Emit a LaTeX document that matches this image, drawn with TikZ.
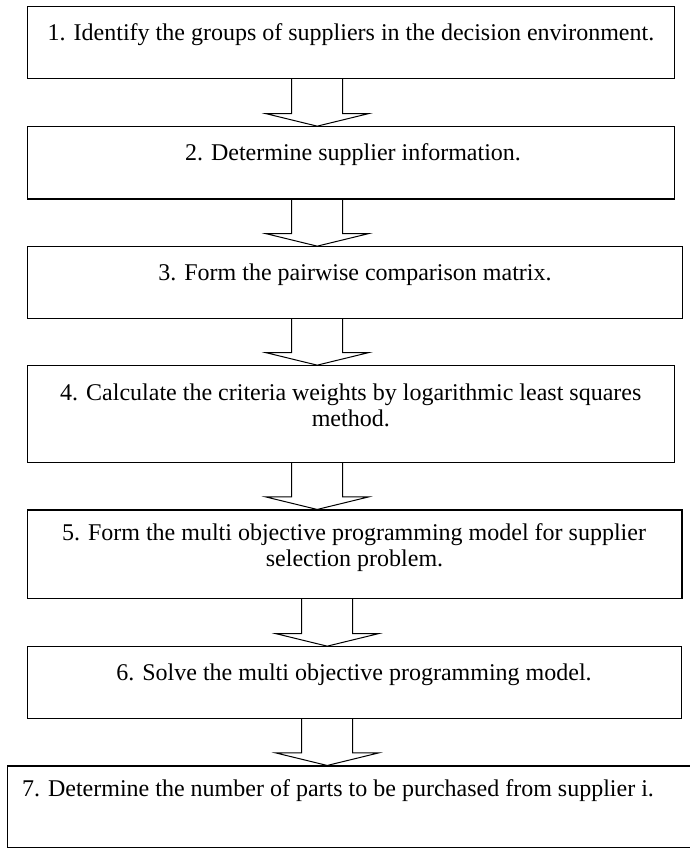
\documentclass[tikz,border=0pt]{standalone}
\usepackage{fontspec}
\setmainfont{Liberation Serif}
\usetikzlibrary{calc}
\newcommand{\blockarrow}[3]{%
  \draw[blk] let \p1=(#1.south), \p2=(#2.north) in
    (#3pt-25.5pt,\y1) -- (#3pt-25.5pt,\y2+12.5pt) -- (#3pt-51.3pt,\y2+12.5pt)
    -- (#3pt,\y2) -- (#3pt+51.3pt,\y2+12.5pt) -- (#3pt+25.5pt,\y2+12.5pt)
    -- (#3pt+25.5pt,\y1);}
\begin{document}
\begin{tikzpicture}[x=1pt,y=1pt,
  box/.style={draw, line width=1.1pt, rectangle, inner sep=0pt},
  lbl/.style={font=\fontsize{24}{26.5}\selectfont, inner sep=0pt, anchor=base},
  blk/.style={draw, line width=1pt, line join=miter}]
\useasboundingbox (0,0) rectangle (690,-848);
\clip (0,0) rectangle (690,-848);
\fill[white] (0,0) rectangle (690,-848);

\node[box, minimum width=647, minimum height=71.6] (b1) at (350.8,-42.5) {};
\node[box, minimum width=647, minimum height=72.3] (b2) at (350.8,-162.85) {};
\node[box, minimum width=655, minimum height=71.6] (b3) at (354.8,-282.5) {};
\node[box, minimum width=647, minimum height=96.6] (b4) at (350.8,-414) {};
\node[box, minimum width=654.7, minimum height=88.3] (b5) at (354.65,-554.15) {};
\node[box, minimum width=654.4, minimum height=71.6] (b6) at (354.5,-682.5) {};
\node[box, minimum width=712.7, minimum height=81.3] (b7) at (363.65,-806.65) {};

\node[lbl] (t1) at (351,-40.7) {1. Identify the groups of suppliers in the decision environment.};
\node[lbl] (t2) at (353,-160) {2. Determine supplier information.};
\node[lbl] (t3) at (355,-280) {3. Form the pairwise comparison matrix.};
\node[lbl] (t4a) at (350.8,-400) {4. Calculate the criteria weights by logarithmic least squares};
\node[lbl] (t4b) at (350.8,-426.7) {method.};
\node[lbl] (t5a) at (354,-540) {5. Form the multi objective programming model for supplier};
\node[lbl] (t5b) at (354.5,-566) {selection problem.};
\node[lbl] (t6) at (354,-680) {6. Solve the multi objective programming model.};
\node[lbl] (t7) at (338,-796.7) {7. Determine the number of parts to be purchased from supplier i.};

\blockarrow{b1}{b2}{317.2}
\blockarrow{b2}{b3}{317.2}
\blockarrow{b3}{b4}{317.2}
\blockarrow{b4}{b5}{317.2}
\blockarrow{b5}{b6}{327.2}
\blockarrow{b6}{b7}{327.2}
\end{tikzpicture}
\end{document}
